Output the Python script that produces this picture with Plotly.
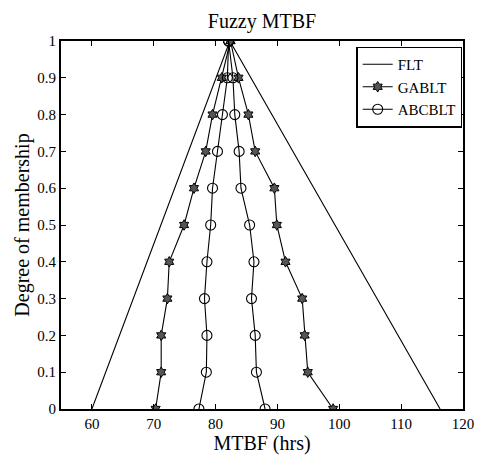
import plotly.graph_objects as go

membership = [0, 0.1, 0.2, 0.3, 0.4, 0.5, 0.6, 0.7, 0.8, 0.9, 1.0]

flt_x = [60.0, 82.3, 116.3]
flt_y = [0, 1, 0]

ga_left = [70.3, 71.2, 71.2, 72.2, 72.5, 74.9, 76.5, 78.4, 79.5, 81.0, 82.4]
ga_right = [99.0, 94.9, 94.4, 94.0, 91.3, 89.9, 89.5, 86.4, 85.3, 83.7, 82.4]
abc_left = [77.3, 78.5, 78.6, 78.2, 78.6, 79.2, 79.5, 80.3, 81.1, 81.9, 82.1]
abc_right = [88.0, 86.6, 86.4, 85.8, 86.2, 85.5, 84.1, 83.8, 83.1, 82.8, 82.1]

x_ticks = [60, 70, 80, 90, 100, 110, 120]
y_ticks = [0, 0.1, 0.2, 0.3, 0.4, 0.5, 0.6, 0.7, 0.8, 0.9, 1]
y_tick_text = ["0", "0.1", "0.2", "0.3", "0.4", "0.5", "0.6", "0.7", "0.8", "0.9", "1"]

FONT = "Times New Roman, Liberation Serif, serif"

fig = go.Figure()
fig.add_trace(go.Scatter(x=flt_x, y=flt_y, mode="lines", name="FLT",
                         line=dict(color="black", width=1.1)))

ga_x = ga_left + ga_right[::-1]
ga_y = membership + membership[::-1]
fig.add_trace(go.Scatter(x=ga_x, y=ga_y, mode="lines+markers", name="GABLT",
                         line=dict(color="black", width=1.1),
                         marker=dict(symbol="hexagram", size=8, color="#555555",
                                     line=dict(color="black", width=1))))

abc_x = abc_left + abc_right[::-1]
abc_y = membership + membership[::-1]
fig.add_trace(go.Scatter(x=abc_x, y=abc_y, mode="lines+markers", name="ABCBLT",
                         line=dict(color="black", width=1.1),
                         marker=dict(symbol="circle-open", size=10, color="black",
                                     line=dict(color="black", width=1.1))))

axis_common = dict(showline=True, linecolor="black", linewidth=1.8, mirror="ticks",
                   ticks="inside", ticklen=5, tickcolor="black", showgrid=False,
                   zeroline=False, tickfont=dict(family=FONT, size=15, color="black"))

fig.update_layout(
    width=486, height=462,
    margin=dict(l=61, r=14, t=41, b=53),
    paper_bgcolor="white", plot_bgcolor="white",
    font=dict(family=FONT, color="black"),
    title=dict(text="Fuzzy MTBF", xref="paper", x=0.5, xanchor="center",
               y=1 - 21 / 462, yanchor="middle",
               font=dict(family=FONT, size=20, color="black")),
    xaxis=dict(range=[55, 120], tickvals=x_ticks,
               title=dict(text="MTBF (hrs)", font=dict(family=FONT, size=20, color="black"), standoff=2),
               **axis_common),
    yaxis=dict(range=[0, 1], tickvals=y_ticks, ticktext=y_tick_text,
               title=dict(text="Degree of membership", font=dict(family=FONT, size=20, color="black"), standoff=2),
               **axis_common),
    legend=dict(x=0.998, xanchor="right", y=0.985, yanchor="top",
                bgcolor="white", bordercolor="black", borderwidth=1.5,
                font=dict(family=FONT, size=15, color="black"),
                tracegroupgap=0, itemwidth=30),
    showlegend=True,
)

fig.write_html("out.html")
